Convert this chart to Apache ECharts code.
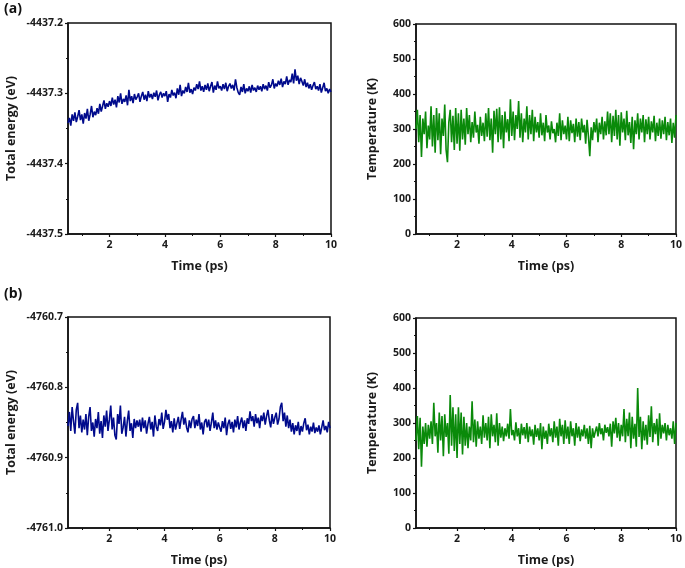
<!DOCTYPE html>
<html>
<head>
<meta charset="utf-8">
<script src="https://cdn.jsdelivr.net/npm/echarts@6/dist/echarts.min.js"></script>
<style>
html,body{margin:0;padding:0;background:#fff;}
#c{width:685px;height:568px;}
</style>
</head>
<body>
<div id="c"></div>
<script>
// time axis: 0.5 ps to 10 ps, step 0.05 ps
const tStart = 0.5, tStep = 0.05;
const xTickValues = [2, 4, 6, 8, 10];
const xMinorValues = [1, 3, 5, 7, 9];

const energyA = [
-4437.342,-4437.335,-4437.346,-4437.330,-4437.339,-4437.327,-4437.341,-4437.333,-4437.324,-4437.338,-4437.330,
-4437.343,-4437.328,-4437.336,-4437.322,-4437.339,-4437.330,-4437.318,-4437.334,-4437.326,-4437.331,
-4437.321,-4437.329,-4437.315,-4437.326,-4437.318,-4437.310,-4437.322,-4437.314,-4437.319,-4437.311,
-4437.318,-4437.306,-4437.316,-4437.309,-4437.320,-4437.304,-4437.313,-4437.300,-4437.315,-4437.308,
-4437.312,-4437.303,-4437.317,-4437.295,-4437.311,-4437.304,-4437.314,-4437.301,-4437.309,-4437.305,
-4437.300,-4437.312,-4437.304,-4437.298,-4437.309,-4437.302,-4437.311,-4437.297,-4437.306,-4437.301,
-4437.308,-4437.299,-4437.305,-4437.296,-4437.310,-4437.302,-4437.298,-4437.306,-4437.300,-4437.304,
-4437.297,-4437.312,-4437.301,-4437.306,-4437.295,-4437.303,-4437.299,-4437.307,-4437.293,-4437.302,
-4437.288,-4437.304,-4437.296,-4437.300,-4437.291,-4437.298,-4437.285,-4437.299,-4437.294,-4437.301,
-4437.292,-4437.296,-4437.287,-4437.294,-4437.283,-4437.296,-4437.290,-4437.298,-4437.288,-4437.295,
-4437.286,-4437.297,-4437.290,-4437.284,-4437.299,-4437.289,-4437.295,-4437.283,-4437.293,-4437.290,
-4437.296,-4437.287,-4437.294,-4437.285,-4437.297,-4437.290,-4437.286,-4437.293,-4437.288,-4437.296,
-4437.280,-4437.292,-4437.299,-4437.302,-4437.291,-4437.298,-4437.287,-4437.300,-4437.293,-4437.297,
-4437.290,-4437.299,-4437.288,-4437.296,-4437.292,-4437.298,-4437.289,-4437.295,-4437.290,-4437.297,
-4437.287,-4437.294,-4437.289,-4437.296,-4437.284,-4437.292,-4437.288,-4437.280,-4437.293,-4437.286,
-4437.290,-4437.282,-4437.288,-4437.279,-4437.291,-4437.283,-4437.287,-4437.276,-4437.288,-4437.281,
-4437.284,-4437.272,-4437.286,-4437.266,-4437.282,-4437.275,-4437.287,-4437.278,-4437.283,-4437.289,
-4437.280,-4437.291,-4437.285,-4437.293,-4437.287,-4437.295,-4437.289,-4437.284,-4437.294,-4437.290,
-4437.296,-4437.287,-4437.299,-4437.292,-4437.285,-4437.297,-4437.293,-4437.300,-4437.294,-4437.298
];

const tempA = [
300,355,262,340,220,330,285,350,245,310,270,
365,250,340,232,360,268,345,228,330,280,
370,240,205,320,355,262,338,240,360,258,
345,238,355,270,330,255,360,285,340,262,
320,275,350,290,312,258,335,280,318,265,
345,278,360,268,330,232,352,285,358,262,
362,270,340,245,350,290,328,265,385,280,
350,268,340,300,380,275,345,262,330,290,
365,270,340,285,355,265,335,290,320,275,
345,282,318,265,340,290,310,270,322,288,
300,262,318,280,345,268,325,285,310,270,
335,265,325,288,315,262,330,278,320,268,
330,290,312,258,326,280,222,305,268,320,
290,330,262,318,285,335,270,322,282,350,
285,345,262,338,280,355,270,340,252,348,
290,330,268,352,282,320,260,335,242,325,
285,345,270,330,290,340,262,328,285,335,
270,322,290,338,265,318,280,330,272,325,
285,335,268,320,282,330,260,318,275,340
];

const energyB = [
-4760.855,-4760.835,-4760.862,-4760.828,-4760.848,-4760.866,-4760.832,-4760.822,-4760.858,-4760.840,-4760.864,
-4760.846,-4760.860,-4760.838,-4760.868,-4760.842,-4760.828,-4760.862,-4760.850,-4760.870,-4760.845,
-4760.858,-4760.835,-4760.866,-4760.848,-4760.872,-4760.840,-4760.856,-4760.833,-4760.862,-4760.846,
-4760.826,-4760.860,-4760.843,-4760.868,-4760.874,-4760.838,-4760.852,-4760.826,-4760.866,-4760.857,
-4760.842,-4760.870,-4760.848,-4760.833,-4760.862,-4760.851,-4760.872,-4760.845,-4760.858,-4760.847,
-4760.856,-4760.846,-4760.863,-4760.843,-4760.858,-4760.847,-4760.866,-4760.852,-4760.842,-4760.860,
-4760.849,-4760.870,-4760.840,-4760.856,-4760.862,-4760.845,-4760.854,-4760.836,-4760.859,-4760.849,
-4760.832,-4760.846,-4760.838,-4760.858,-4760.848,-4760.864,-4760.844,-4760.860,-4760.851,-4760.842,
-4760.859,-4760.846,-4760.835,-4760.853,-4760.843,-4760.857,-4760.864,-4760.847,-4760.858,-4760.845,
-4760.841,-4760.858,-4760.846,-4760.855,-4760.838,-4760.860,-4760.850,-4760.867,-4760.849,-4760.845,
-4760.857,-4760.846,-4760.862,-4760.850,-4760.836,-4760.858,-4760.847,-4760.860,-4760.850,-4760.857,
-4760.863,-4760.848,-4760.858,-4760.843,-4760.868,-4760.852,-4760.846,-4760.859,-4760.849,-4760.864,
-4760.846,-4760.857,-4760.841,-4760.860,-4760.850,-4760.843,-4760.858,-4760.847,-4760.862,-4760.844,
-4760.852,-4760.834,-4760.848,-4760.841,-4760.856,-4760.838,-4760.851,-4760.843,-4760.858,-4760.840,
-4760.848,-4760.836,-4760.853,-4760.841,-4760.832,-4760.847,-4760.857,-4760.838,-4760.852,-4760.843,
-4760.836,-4760.853,-4760.845,-4760.828,-4760.822,-4760.848,-4760.836,-4760.856,-4760.840,-4760.858,
-4760.846,-4760.863,-4760.851,-4760.867,-4760.854,-4760.862,-4760.849,-4760.868,-4760.855,-4760.863,
-4760.851,-4760.844,-4760.861,-4760.853,-4760.867,-4760.856,-4760.863,-4760.850,-4760.865,-4760.857,
-4760.863,-4760.854,-4760.867,-4760.857,-4760.847,-4760.861,-4760.855,-4760.864,-4760.849,-4760.858
];

const tempB = [
250,320,225,315,175,290,240,300,232,295,255,
305,240,358,262,300,215,330,250,320,205,
325,260,300,212,380,235,345,220,325,200,
345,240,330,210,318,235,300,228,290,250,
362,245,310,232,305,255,290,240,322,258,
300,250,318,228,325,262,295,245,328,235,
300,258,290,248,285,262,298,255,340,265,
280,250,302,262,285,240,298,265,288,255,
300,245,290,262,282,238,295,260,285,250,
300,225,290,255,278,240,298,262,285,245,
305,258,290,235,312,262,295,240,308,255,
290,240,305,262,285,235,300,258,290,248,
282,262,295,255,285,240,292,228,285,258,
275,290,262,300,268,285,250,295,272,288,
262,298,232,305,270,315,258,300,248,295,
262,340,245,312,262,330,228,318,255,298,
232,400,260,318,225,305,250,295,238,322,
260,348,245,300,268,312,235,328,255,295,
270,300,250,295,265,285,255,305,240,300
];

const panelLabels = ['(a)', '(b)'];
const energyNames = 'Total energy (eV)';
const tempName = 'Temperature (K)';
const timeName = 'Time (ps)';

function pairs(arr) {
  return arr.map((v, i) => [+(tStart + i * tStep).toFixed(2), v]);
}

const FONT = '"Open Sans", "DejaVu Sans", sans-serif';
const grids = [
  {left: 68, top: 23, width: 263, height: 211},
  {left: 416, top: 24, width: 261, height: 210},
  {left: 68, top: 317, width: 262, height: 211},
  {left: 416, top: 318, width: 261, height: 210}
];
const yDefs = [
  {min: -4437.5, max: -4437.2, interval: 0.1, name: energyNames, gap: 50, dec: 1},
  {min: 0, max: 600, interval: 100, name: tempName, gap: 37, dec: 0},
  {min: -4761.0, max: -4760.7, interval: 0.1, name: energyNames, gap: 50, dec: 1},
  {min: 0, max: 600, interval: 100, name: tempName, gap: 37, dec: 0}
];
const seriesData = [energyA, tempA, energyB, tempB];
const colors = ['#000a8c', '#0a8a0a', '#000a8c', '#0a8a0a'];

const xAxes = [], yAxes = [], series = [];
grids.forEach((g, i) => {
  g.show = true; g.borderColor = '#111'; g.borderWidth = 1.5; g.backgroundColor = 'transparent';
  xAxes.push({
    type: 'value', gridIndex: i, min: 0.5, max: 10,
    name: timeName, nameLocation: 'middle', nameGap: 26,
    nameTextStyle: {fontFamily: FONT, fontWeight: 'bold', fontSize: 12.5, color: '#1a1a1a'},
    axisLine: {show: true, onZero: false, lineStyle: {color: '#111', width: 1.5}},
    axisTick: {show: true, customValues: xTickValues, length: 3, lineStyle: {color: '#111', width: 1.2}},
    axisLabel: {customValues: xTickValues, margin: 6, fontFamily: FONT, fontWeight: 'bold', fontSize: 10.5, color: '#1a1a1a'},
    splitLine: {show: false}
  });
  xAxes.push({
    type: 'value', gridIndex: i, min: 0.5, max: 10, position: 'bottom',
    axisLine: {show: false},
    axisTick: {show: true, customValues: xMinorValues, length: 2, lineStyle: {color: '#111', width: 1}},
    axisLabel: {show: false},
    splitLine: {show: false}
  });
  const y = yDefs[i];
  yAxes.push({
    type: 'value', gridIndex: i, min: y.min, max: y.max, interval: y.interval,
    name: y.name, nameLocation: 'middle', nameGap: y.gap, nameRotate: 90,
    nameTextStyle: {fontFamily: FONT, fontWeight: 'bold', fontSize: 12.5, color: '#1a1a1a'},
    axisLine: {show: true, onZero: false, lineStyle: {color: '#111', width: 1.5}},
    axisTick: {show: true, length: 3, lineStyle: {color: '#111', width: 1.2}},
    minorTick: {show: true, splitNumber: 2, length: 2, lineStyle: {color: '#111', width: 1}},
    axisLabel: {margin: 5, fontFamily: FONT, fontWeight: 'bold', fontSize: 10.5, color: '#1a1a1a',
      formatter: v => v.toFixed(y.dec)},
    splitLine: {show: false}
  });
  series.push({
    type: 'line', xAxisIndex: i * 2, yAxisIndex: i, data: pairs(seriesData[i]),
    showSymbol: false, symbol: 'none', silent: true, animation: false,
    lineStyle: {color: colors[i], width: 1.6}
  });
});

const chart = echarts.init(document.getElementById('c'), null, {renderer: 'canvas'});
chart.setOption({
  backgroundColor: '#fff',
  animation: false,
  graphic: [
    {type: 'text', left: 4, top: 2, style: {text: panelLabels[0], fontFamily: FONT, fontWeight: 'bold', fontSize: 14, fill: '#111'}},
    {type: 'text', left: 4, top: 287, style: {text: panelLabels[1], fontFamily: FONT, fontWeight: 'bold', fontSize: 14, fill: '#111'}}
  ],
  grid: grids,
  xAxis: xAxes,
  yAxis: yAxes,
  series: series
});
</script>
</body>
</html>
